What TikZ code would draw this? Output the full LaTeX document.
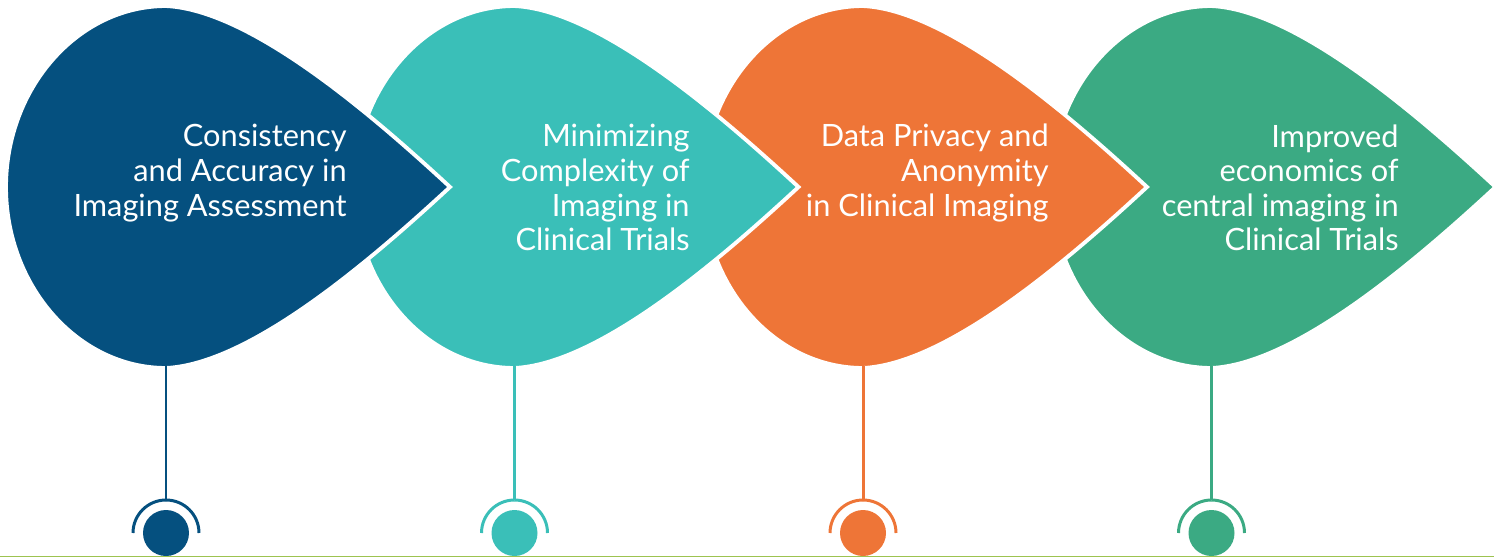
\documentclass[tikz,border=0pt]{standalone}
\usepackage{fontspec}
\setmainfont{Lato}
\definecolor{cnavy}{HTML}{05507F}
\definecolor{cteal}{HTML}{3ABFB8}
\definecolor{corange}{HTML}{EE7537}
\definecolor{cgreen}{HTML}{3BAA83}
\definecolor{clime}{HTML}{9DC350}
\begin{document}
\begin{tikzpicture}[x=0.02cm,y=-0.02cm,
  drop/.style={line width=2.2pt, draw=white, line join=miter},
  lbl/.style={text=white, font=\fontsize{17.5}{19.7}\selectfont, align=right, anchor=north east, inner sep=0pt},
  stem/.style={line width=1.7pt},
  ring/.style={line width=1.7pt},
  dot/.style={circle, inner sep=0pt, minimum size=0.92cm}]
\useasboundingbox (0,0) rectangle (1494,558);
\foreach \k/\col in {3/cgreen,2/corange,1/cteal,0/cnavy}{
  \begin{scope}[shift={(348.5*\k,0)}]
    \path[fill=\col, drop] (450,187) .. controls (370,113) and (250,10) .. (166,6)
      .. controls (78,6) and (6,88) .. (6,187)
      .. controls (6,286) and (78,368) .. (166,368)
      .. controls (250,364) and (370,261) .. (450,187) -- cycle;
    \coordinate (stemtop\k) at (166,366);
    \coordinate (ringtop\k) at (166,500);
    \node[dot, fill=\col] (dot\k) at (166,533) {};
    \draw[stem, draw=\col] (stemtop\k) -- (ringtop\k);
    \draw[ring, draw=\col] (ringtop\k) arc (270:180:33);
    \draw[ring, draw=\col] (ringtop\k) arc (270:360:33);
  \end{scope}
}
\node[lbl] (t0) at (347,124) {Consistency\\and Accuracy in\\Imaging Assessment};
\node[lbl] (t1) at (690,124) {Minimizing\\Complexity of\\Imaging in\\Clinical Trials};
\node[lbl] (t2) at (1049,124) {Data Privacy and\\Anonymity\\in Clinical Imaging};
\node[lbl] (t3) at (1399,124) {Improved\\economics of\\central imaging in\\Clinical Trials};
\coordinate (baseL) at (0,556.5);
\coordinate (baseR) at (1494,556.5);
\draw[clime, line width=0.9pt] (baseL) -- (baseR);
\end{tikzpicture}
\end{document}
